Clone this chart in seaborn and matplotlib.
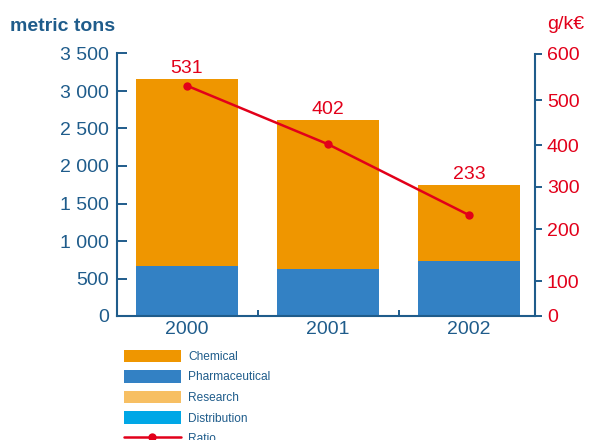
import numpy as np
import pandas as pd
import matplotlib
matplotlib.use("Agg")
import matplotlib.pyplot as plt
from matplotlib.patches import Patch
from matplotlib.lines import Line2D
from matplotlib.scale import FuncScale
import seaborn as sns

# ---------------- data ----------------
years = ["2000", "2001", "2002"]
chemical = [2490, 1980, 1010]
pharmaceutical = [660, 620, 728]
research = [10, 10, 10]
distribution = [2, 2, 2]
ratio = [531, 402, 233]
left_ticks = [0, 500, 1000, 1500, 2000, 2500, 3000, 3500]
left_tick_labels = ["0", "500", "1 000", "1 500", "2 000", "2 500", "3 000", "3 500"]
right_ticks = [0, 100, 200, 300, 400, 500, 600]
series_names = ["Chemical", "Pharmaceutical", "Research", "Distribution", "Ratio"]

# ---------------- style ----------------
sns.set_style("white")
plt.rcParams["font.family"] = ["Liberation Sans", "DejaVu Sans"]
BLUE_TXT = "#1f5c8b"
RED = "#e2001a"
colors = {"Chemical": "#ef9600", "Pharmaceutical": "#3381c4",
          "Research": "#f7bf63", "Distribution": "#00a7e6"}
# irregular right-axis tick placement (fraction of axis height) as in the original
right_frac = [0.0, 0.1333, 0.3313, 0.4923, 0.6510, 0.8222, 1.0]

W, H = 591, 440
fig = plt.figure(figsize=(W / 100, H / 100), dpi=100)
ax = fig.add_axes([116.5 / W, 1 - 316 / H, (535 - 116.5) / W, (316 - 53.5) / H])

df = pd.DataFrame({"year": years, "chem": chemical, "pharm": pharmaceutical,
                   "res": research, "dist": distribution})
df["l_dist"] = df["dist"]
df["l_res"] = df["l_dist"] + df["res"]
df["l_pharm"] = df["l_res"] + df["pharm"]
df["l_chem"] = df["l_pharm"] + df["chem"]

bw = 0.723
for col, name in [("l_chem", "Chemical"), ("l_pharm", "Pharmaceutical"),
                  ("l_res", "Research"), ("l_dist", "Distribution")]:
    sns.barplot(data=df, x="year", y=col, color=colors[name], saturation=1,
                width=bw, errorbar=None, linewidth=0, ax=ax)

ax.set_xlim(-0.5, 2.468)
ax.set_ylim(0, 3500)
ax.set_xlabel("")
ax.set_ylabel("")
ax.set_yticks(left_ticks)
ax.set_yticklabels(left_tick_labels)
ax.set_xticks([0, 1, 2])
ax.set_xticklabels(years)
ax.set_xticks([0.5, 1.5], minor=True)
ax.tick_params(axis="y", direction="in", length=7.2, width=1.4, color=BLUE_TXT,
               labelcolor=BLUE_TXT, labelsize=14, pad=5.4, left=True)
ax.tick_params(axis="x", which="major", length=0, labelcolor=BLUE_TXT,
               labelsize=14, pad=3.6, bottom=True)
ax.tick_params(axis="x", which="minor", direction="in", length=4, width=1.4,
               color=BLUE_TXT, bottom=True)
for s in ["top", "right"]:
    ax.spines[s].set_visible(False)
for s in ["left", "bottom"]:
    ax.spines[s].set_color(BLUE_TXT)
    ax.spines[s].set_linewidth(1.5)

# value labels above bars
for i, (tot, r) in enumerate(zip(df["l_chem"], ratio)):
    ax.annotate(str(r), xy=(i, tot), xytext=(0, 4.3), textcoords="offset points",
                ha="center", va="baseline", color=RED, fontsize=14)

# ---------------- ratio on right axis ----------------
ax2 = ax.twinx()
fwd = lambda v: np.interp(v, right_ticks, right_frac)
inv = lambda u: np.interp(u, right_frac, right_ticks)
ax2.set_yscale(FuncScale(ax2.yaxis, (fwd, inv)))
sns.lineplot(x=[0, 1, 2], y=ratio, color=RED, linewidth=1.8, marker="o",
             markersize=6, markeredgewidth=0, ax=ax2)
ax2.set_ylim(0, 600)
ax2.set_yticks(right_ticks)
ax2.set_yticklabels([str(t) for t in right_ticks])
ax2.tick_params(axis="y", direction="out", length=5, width=1.4, color=BLUE_TXT,
                labelcolor=RED, labelsize=14, pad=3.6, right=True)
ax2.tick_params(axis="x", bottom=False, labelbottom=False)
ax2.set_xlabel("")
ax2.set_ylabel("")
for s in ["top", "left", "bottom"]:
    ax2.spines[s].set_visible(False)
ax2.spines["right"].set_color(BLUE_TXT)
ax2.spines["right"].set_linewidth(1.5)

# ---------------- titles ----------------
fig.text(10 / W, 1 - 31 / H, "metric tons", fontsize=14, fontweight="bold",
         color=BLUE_TXT, ha="left", va="baseline")
fig.text(547 / W, 1 - 29 / H, "g/k€", fontsize=14, color=RED,
         ha="left", va="baseline")

# ---------------- legend ----------------
handles = [Patch(facecolor=colors[n], edgecolor="none", label=n) for n in series_names[:4]]
handles.append(Line2D([], [], color=RED, lw=1.8, marker="o", markersize=6,
                      markeredgewidth=0, label=series_names[4]))
fig.legend(handles=handles, loc="upper left", bbox_to_anchor=(124 / W, 1 - 349.5 / H),
           frameon=False, fontsize=8.6, handlelength=4.75, handleheight=1.27,
           labelspacing=0.6, handletextpad=0.6, borderpad=0, borderaxespad=0,
           labelcolor=BLUE_TXT)

fig.savefig("out.png", dpi=100)
